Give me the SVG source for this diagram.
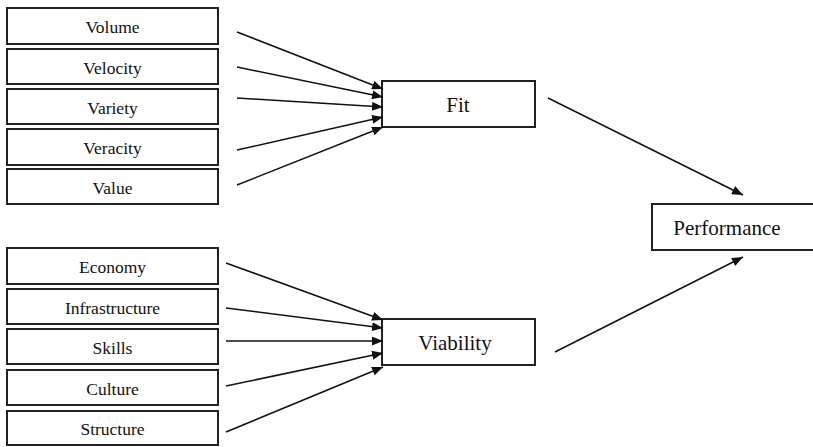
<svg xmlns="http://www.w3.org/2000/svg" width="813" height="447" viewBox="0 0 813 447">
<style>
.box{fill:#fff;stroke:#222;stroke-width:2}
.s{font-family:"Liberation Serif","Times New Roman",serif;font-size:17.5px;fill:#111;text-anchor:middle}
.b{font-family:"Liberation Serif","Times New Roman",serif;font-size:21px;fill:#111;text-anchor:middle}
.c line{stroke:#111;stroke-width:1.5;marker-end:url(#ah)}
</style>
<defs>
<marker id="ah" markerUnits="userSpaceOnUse" markerWidth="11" markerHeight="9" refX="11" refY="4.5" orient="auto">
<path d="M0,0 L11,4.5 L0,9 z" fill="#111"/>
</marker>
</defs>
<rect width="813" height="447" fill="#fff"/>
<g id="volume"><rect class="box" x="7" y="8" width="211" height="36"/><text class="s" x="112.5" y="33">Volume</text></g>
<g id="velocity"><rect class="box" x="7" y="49" width="211" height="35"/><text class="s" x="112.5" y="73.5">Velocity</text></g>
<g id="variety"><rect class="box" x="7" y="89" width="211" height="35"/><text class="s" x="112.5" y="113.5">Variety</text></g>
<g id="veracity"><rect class="box" x="7" y="129" width="211" height="36"/><text class="s" x="112.5" y="154">Veracity</text></g>
<g id="value"><rect class="box" x="7" y="169" width="211" height="35"/><text class="s" x="112.5" y="193.5">Value</text></g>
<g id="economy"><rect class="box" x="7" y="248" width="211" height="36"/><text class="s" x="112.5" y="273">Economy</text></g>
<g id="infrastructure"><rect class="box" x="7" y="289" width="211" height="35"/><text class="s" x="112.5" y="313.5">Infrastructure</text></g>
<g id="skills"><rect class="box" x="7" y="329" width="211" height="35"/><text class="s" x="112.5" y="353.5">Skills</text></g>
<g id="culture"><rect class="box" x="7" y="370" width="211" height="35"/><text class="s" x="112.5" y="394.5">Culture</text></g>
<g id="structure"><rect class="box" x="7" y="411" width="211" height="34"/><text class="s" x="112.5" y="435">Structure</text></g>
<g id="fit"><rect class="box" x="382" y="81" width="153" height="46"/><text class="b" x="458" y="112">Fit</text></g>
<g id="viability"><rect class="box" x="382" y="319" width="153" height="46"/><text class="b" x="455" y="350">Viability</text></g>
<g id="performance"><rect class="box" x="652" y="204" width="165" height="46"/><text class="b" x="727" y="235">Performance</text></g>
<g id="connectors" class="c">
<line x1="237" y1="32" x2="383" y2="89"/>
<line x1="237" y1="67" x2="383" y2="97"/>
<line x1="237" y1="98" x2="383" y2="107"/>
<line x1="237" y1="150" x2="383" y2="117"/>
<line x1="237" y1="185" x2="383" y2="127"/>
<line x1="226" y1="263" x2="383" y2="320"/>
<line x1="226" y1="308" x2="383" y2="328"/>
<line x1="226" y1="341" x2="383" y2="341"/>
<line x1="226" y1="386" x2="383" y2="353"/>
<line x1="226" y1="432" x2="383" y2="367"/>
<line x1="548" y1="98" x2="743" y2="195"/>
<line x1="555" y1="352" x2="743" y2="257"/>
</g>
</svg>
